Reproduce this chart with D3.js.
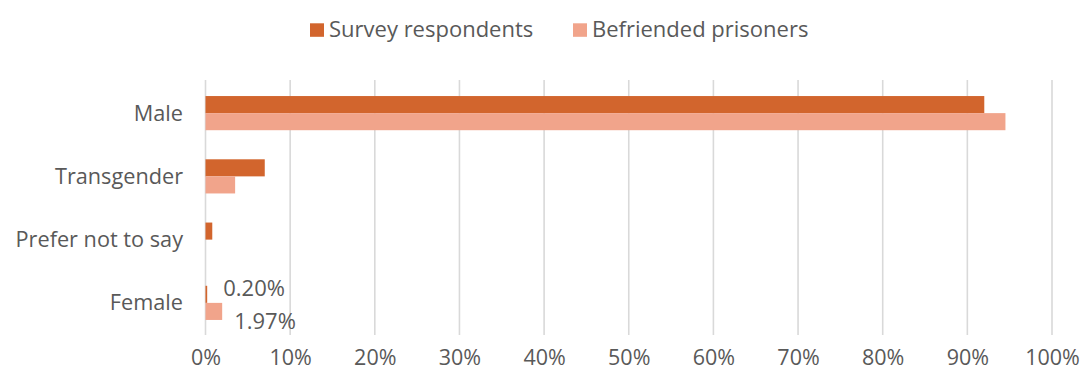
<!DOCTYPE html>
<html><head><meta charset="utf-8">
<script src="https://cdn.jsdelivr.net/npm/d3@7"></script>
<style>
body{margin:0;background:#fff;}
text{font-family:"Open Sans",sans-serif;fill:#595959;}
</style></head>
<body><svg id="c" width="1086" height="381"></svg>
<script>
const categories = ["Male","Transgender","Prefer not to say","Female"];
const seriesNames = ["Survey respondents","Befriended prisoners"];
const surveyValues = [92.0, 7.0, 0.8, 0.2];
const befriendedValues = [94.5, 3.5, 0, 1.97];
const xTicks = [0,10,20,30,40,50,60,70,80,90,100];
const colors = ["#D2652D","#F1A48B"];

const svg = d3.select("#c");
const m = {left:205.5, right:1052, top:81.5, bottom:334.5};
const x = d3.scaleLinear().domain([0,100]).range([m.left,m.right]);
const y = d3.scaleBand().domain(categories).range([m.top,m.bottom]).paddingInner(0.46).paddingOuter(0.23);
const ys = d3.scaleBand().domain(seriesNames).range([0,y.bandwidth()]);

// gridlines
svg.append("g").selectAll("line").data(xTicks).join("line")
  .attr("x1",d=>x(d)).attr("x2",d=>x(d)).attr("y1",80).attr("y2",335)
  .attr("stroke","#d9d9d9").attr("stroke-width",1.6);

// axis
const ax = svg.append("g").attr("transform",`translate(0,${m.bottom})`)
  .call(d3.axisBottom(x).tickValues(xTicks).tickFormat(d=>d+"%").tickSize(0).tickPadding(15));
ax.select(".domain").remove();
ax.selectAll("text").attr("font-size",21.5).attr("fill","#595959").style("font-family","'Open Sans',sans-serif");

// category labels
svg.append("g").selectAll("text").data(categories).join("text")
  .attr("x",183).attr("y",d=>y(d)+y.bandwidth()/2).attr("dy","0.35em")
  .attr("text-anchor","end").attr("font-size",21.7).text(d=>d);

const data = categories.map((c,i)=>({cat:c, vals:[surveyValues[i], befriendedValues[i]]}));
const g = svg.append("g").selectAll("g").data(data).join("g")
  .attr("transform",d=>`translate(0,${y(d.cat)})`);
g.selectAll("rect").data(d=>d.vals.map((v,j)=>({v,s:seriesNames[j],j}))).join("rect")
  .attr("x",x(0)).attr("y",d=>ys(d.s)).attr("height",ys.bandwidth())
  .attr("width",d=>x(d.v)-x(0)).attr("fill",d=>colors[d.j]);

// data labels for Female
const fem = data[3];
svg.append("g").selectAll("text").data(fem.vals.map((v,j)=>({v,j}))).join("text")
  .attr("x",d=>x(d.v)+ (d.j===0?16:12))
  .attr("y",d=>y("Female")+ys(seriesNames[d.j])+ys.bandwidth()/2 + (d.j===0?-6:10))
  .attr("dy","0.35em").attr("font-size",22).text(d=>d.v.toFixed(2)+"%");

// legend
const leg = svg.append("g");
const lx = [310,573];
seriesNames.forEach((s,i)=>{
  leg.append("rect").attr("x",lx[i]).attr("y",23.3).attr("width",14).attr("height",13.5).attr("fill",colors[i]);
  leg.append("text").attr("x",lx[i]+19).attr("y",29.5).attr("dy","0.35em").attr("font-size",22).text(s);
});
</script></body></html>
